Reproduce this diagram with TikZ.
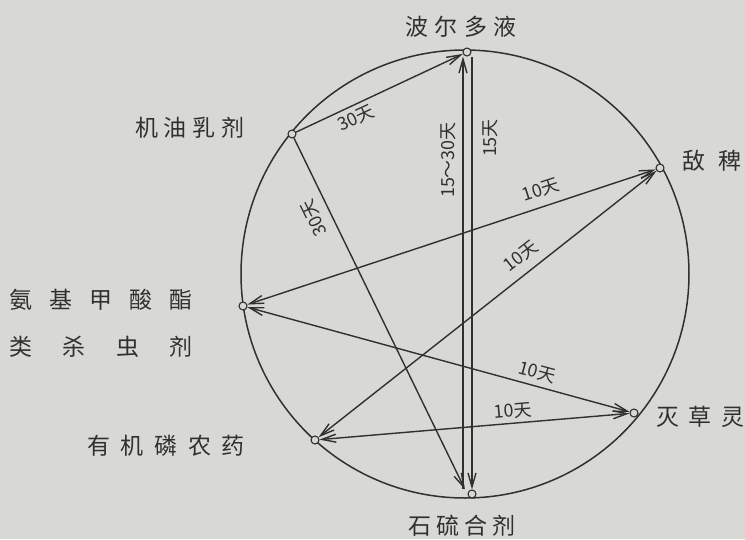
\documentclass[tikz,border=0pt]{standalone}
\usepackage{fontspec}
\newfontfamily\cjk{Noto Sans CJK SC}
\usetikzlibrary{arrows.meta}
\definecolor{paper}{RGB}{216,216,213}
\definecolor{ink}{RGB}{48,48,48}
\begin{document}
\begin{tikzpicture}[x=1pt,y=-1pt,
  pt/.style={circle,draw=ink,fill=paper,line width=1.1pt,inner sep=0pt,minimum size=8pt},
  conn/.style={draw=ink,line width=1.4pt},
  arr/.style={-{Straight Barb[length=14pt,width=8pt]}},
  darr/.style={{Straight Barb[length=14pt,width=8pt]}-{Straight Barb[length=14pt,width=8pt]}},
  lab/.style={text=ink,font=\cjk\fontsize{23}{23}\selectfont,inner sep=0pt},
  elab/.style={text=ink,font=\cjk\fontsize{18}{18}\selectfont,inner sep=0pt}]
\fill[paper] (0,0) rectangle (745,539);
\useasboundingbox (0,0) rectangle (745,539);
% big circle
\node[circle,draw=ink,line width=1.5pt,minimum size=448pt,inner sep=0pt] (ring) at (465,274) {};
% points
\node[pt] (bo) at (467,52) {};
\node[pt] (jy) at (292,134) {};
\node[pt] (db) at (660,168) {};
\node[pt] (aj) at (243,306) {};
\node[pt] (yj) at (315,440) {};
\node[pt] (mc) at (634,413) {};
\node[pt] (sl) at (472,494) {};
% names
\node[lab] (nbo) at (461,27) {\makebox[112pt][s]{波\hfill 尔\hfill 多\hfill 液}};
\node[lab] (njy) at (190,128) {\makebox[110pt][s]{机\hfill 油\hfill 乳\hfill 剂}};
\node[lab] (ndb) at (712,161) {\makebox[60pt][s]{敌\hfill 稗}};
\node[lab] (naj) at (101,300) {\makebox[183pt][s]{氨\hfill 基\hfill 甲\hfill 酸\hfill 酯}};
\node[lab] (naj2) at (101,347) {\makebox[183pt][s]{类\hfill 杀\hfill 虫\hfill 剂}};
\node[lab] (nyj) at (166,446) {\makebox[158pt][s]{有\hfill 机\hfill 磷\hfill 农\hfill 药}};
\node[lab] (nmc) at (700,417) {\makebox[88pt][s]{灭\hfill 草\hfill 灵}};
\node[lab] (nsl) at (462,526) {\makebox[108pt][s]{石\hfill 硫\hfill 合\hfill 剂}};
% connectors
\draw[conn,arr] (jy) -- ([xshift=-7pt]sl.north);
\draw[conn,arr] (jy) -- (bo);
\draw[conn,arr] ([xshift=-9pt]sl.north) -- ([xshift=-4pt]bo.south);
\draw[conn,arr] ([xshift=5pt]bo.south) -- ([xshift=0pt]sl.north);
\draw[conn,darr] (aj) -- (db);
\draw[conn,darr] (yj) -- (db);
\draw[conn,darr] (aj) -- (mc);
\draw[conn,darr] (yj) -- (mc);
% connector labels
\node[elab,rotate=25] (l1) at (356,118) {30天};
\node[elab,rotate=116] (l2) at (314,218) {30天};
\node[elab,rotate=90] (l3) at (448,160) {15～30天};
\node[elab,rotate=90] (l4) at (490,138) {15天};
\node[elab,rotate=18] (l5) at (541,190) {10天};
\node[elab,rotate=38] (l6) at (521,256) {10天};
\node[elab,rotate=-15] (l7) at (537,372) {10天};
\node[elab,rotate=5] (l8) at (513,411) {10天};
\end{tikzpicture}
\end{document}
